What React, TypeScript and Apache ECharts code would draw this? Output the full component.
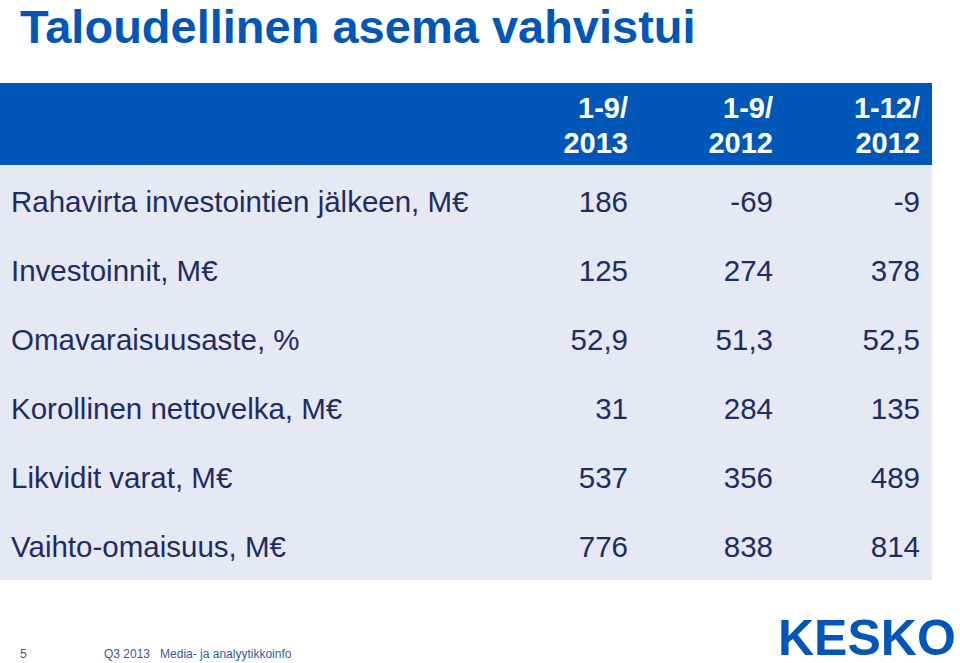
import React, { useEffect, useRef } from "react";
import * as echarts from "echarts";

const title = "Taloudellinen asema vahvistui";
const columnHeaders = [
  ["1-9/", "2013"],
  ["1-9/", "2012"],
  ["1-12/", "2012"],
];
const rowLabels = [
  "Rahavirta investointien jälkeen, M€",
  "Investoinnit, M€",
  "Omavaraisuusaste, %",
  "Korollinen nettovelka, M€",
  "Likvidit varat, M€",
  "Vaihto-omaisuus, M€",
];
const col2013_9 = ["186", "125", "52,9", "31", "537", "776"];
const col2012_9 = ["-69", "274", "51,3", "284", "356", "838"];
const col2012_12 = ["-9", "378", "52,5", "135", "489", "814"];
const footerPage = "5";
const footerText = "Q3 2013   Media- ja analyytikkoinfo";
const logoText = "KESKO";

const BLUE = "#0057B8";
const TEXT = "#1C2C64";
const FONT = "Liberation Sans, Arial, Helvetica, sans-serif";

export default function App() {
  const ref = useRef<HTMLDivElement>(null);
  useEffect(() => {
    if (!ref.current) return;
    const chart = echarts.init(ref.current, null, { renderer: "svg" });
    const columns = [col2013_9, col2012_9, col2012_12];
    const colRight = [628, 773, 920];
    const rowY0 = 201;
    const rowStep = 69;
    const elements: any[] = [];
    elements.push({ type: "rect", shape: { x: 0, y: 165, width: 932, height: 415 }, style: { fill: "#E6E8F3" } });
    elements.push({ type: "rect", shape: { x: 0, y: 83, width: 932, height: 82 }, style: { fill: BLUE } });
    elements.push({
      type: "text", x: 20, y: 3,
      style: { text: title, fill: BLUE, font: `bold 47px ${FONT}`, textVerticalAlign: "top", textAlign: "left" },
    });
    columnHeaders.forEach((h, i) => {
      h.forEach((line, j) => {
        elements.push({
          type: "text", x: colRight[i], y: 108 + j * 35,
          style: { text: line, fill: "#FFFFFF", font: `bold 29px ${FONT}`, textAlign: "right", textVerticalAlign: "middle" },
        });
      });
    });
    rowLabels.forEach((lab, r) => {
      const y = rowY0 + r * rowStep;
      elements.push({
        type: "text", x: 11, y,
        style: { text: lab, fill: TEXT, font: `29.5px ${FONT}`, textAlign: "left", textVerticalAlign: "middle" },
      });
      columns.forEach((col, c) => {
        elements.push({
          type: "text", x: colRight[c], y,
          style: { text: col[r], fill: TEXT, font: `29.5px ${FONT}`, textAlign: "right", textVerticalAlign: "middle" },
        });
      });
    });
    elements.push({
      type: "text", x: 20, y: 654,
      style: { text: footerPage, fill: "#2F5B9E", font: `12px ${FONT}`, textAlign: "left", textVerticalAlign: "middle" },
    });
    elements.push({
      type: "text", x: 104, y: 654,
      style: { text: footerText, fill: "#2F5B9E", font: `12px ${FONT}`, textAlign: "left", textVerticalAlign: "middle" },
    });
    elements.push({
      type: "text", x: 778, y: 638,
      style: { text: logoText, fill: BLUE, font: `900 50px ${FONT}`, textAlign: "left", textVerticalAlign: "middle" },
    });
    chart.setOption({
      animation: false,
      backgroundColor: "#FFFFFF",
      graphic: { elements },
    });
    return () => chart.dispose();
  }, []);
  return <div ref={ref} style={{ position: "fixed", left: 0, top: 0, width: 960, height: 663 }} />;
}
